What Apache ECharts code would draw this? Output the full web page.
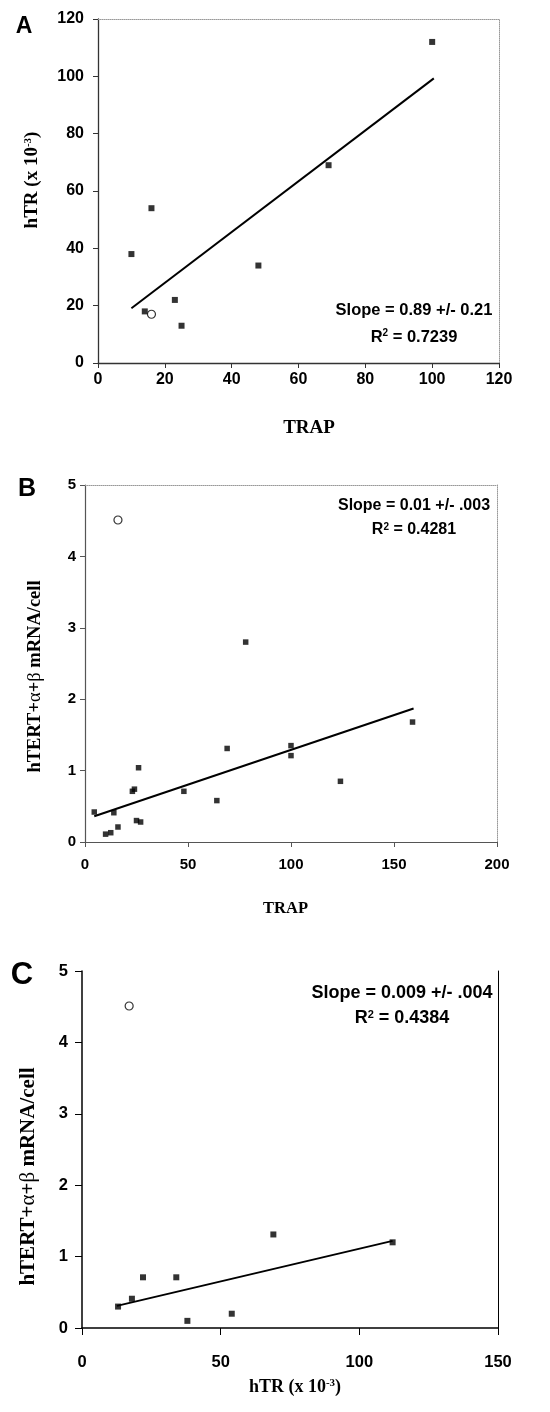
<!DOCTYPE html>
<html>
<head>
<meta charset="utf-8" />
<title>TRAP, hTR and hTERT mRNA</title>
<script src="https://cdn.jsdelivr.net/npm/echarts@6/dist/echarts.min.js"></script>
<style>
  html, body { margin: 0; padding: 0; background: #fff; }
  #chart { width: 550px; height: 1412px; }
</style>
</head>
<body>
<div id="chart"></div>
<script>
  // panel A: hTR (x 10-3) against TRAP
  var trapA = [10, 16, 14, 23, 25, 48, 69, 100];
  var htrA = [38, 54, 18, 22, 13, 34, 69, 112];
  var openA = [[16, 17]];
  var fitA = [[10, 19.1], [100.5, 99.3]];
  var xTicksA = [0, 20, 40, 60, 80, 100, 120];
  var yTicksA = [0, 20, 40, 60, 80, 100, 120];

  // panel B: hTERT+a+b mRNA/cell against TRAP
  var trapB = [4.5, 10, 12.5, 14, 16, 23, 24, 25, 26, 27, 48, 64, 69, 78, 100, 100, 124, 159];
  var mrnaB = [0.42, 0.11, 0.13, 0.41, 0.21, 0.71, 0.74, 0.30, 1.04, 0.28, 0.71, 0.58, 1.31, 2.80, 1.35, 1.21, 0.85, 1.68];
  var openB = [[16, 4.51]];
  var fitB = [[4.5, 0.36], [159.5, 1.87]];
  var xTicksB = [0, 50, 100, 150, 200];
  var yTicksB = [0, 1, 2, 3, 4, 5];

  // panel C: hTERT+a+b mRNA/cell against hTR
  var htrC = [13, 18, 22, 34, 38, 54, 69, 112];
  var mrnaC = [0.30, 0.41, 0.71, 0.71, 0.10, 0.20, 1.31, 1.20];
  var openC = [[17, 4.51]];
  var fitC = [[12.6, 0.31], [112, 1.22]];
  var xTicksC = [0, 50, 100, 150];
  var yTicksC = [0, 1, 2, 3, 4, 5];

  var sans = "'Liberation Sans', Arial, sans-serif";
  var serif = "'Liberation Serif', 'Times New Roman', serif";

  function pairs(xs, ys) {
    return xs.map(function (x, i) { return [x, ys[i]]; });
  }

  function range(ticks) {
    return { min: ticks[0], max: ticks[ticks.length - 1], interval: ticks[1] - ticks[0] };
  }

  // main (labelled) axis
  function mainAxis(grid, ticks, o) {
    var r = range(ticks);
    return {
      type: "value",
      gridIndex: grid,
      min: r.min,
      max: r.max,
      interval: r.interval,
      name: o.name,
      nameLocation: "middle",
      nameGap: o.nameGap,
      nameTextStyle: {
        fontFamily: serif,
        fontWeight: "bold",
        fontSize: o.nameSize,
        color: "#000",
        padding: o.namePad,
        rich: {
          sup: { fontSize: Math.round(o.nameSize * 0.6), fontWeight: "bold", fontFamily: serif, verticalAlign: "top", color: "#000" },
          g: { fontSize: o.nameSize, fontWeight: "normal", fontFamily: serif, color: "#000" },
        },
      },
      axisLine: { show: true, onZero: false, lineStyle: { color: o.lineColor, width: o.lineWidth } },
      axisTick: { show: true, inside: false, length: o.tickLen, lineStyle: { color: o.lineColor, width: 1 } },
      axisLabel: { fontFamily: sans, fontWeight: "bold", fontSize: o.labelSize, color: "#000", margin: o.margin },
      splitLine: { show: false },
    };
  }

  // bare border axis (top / right frame)
  function frameAxis(grid, ticks, pos, color, type) {
    var r = range(ticks);
    return {
      type: "value",
      gridIndex: grid,
      position: pos,
      min: r.min,
      max: r.max,
      interval: r.interval,
      axisLine: { show: true, onZero: false, lineStyle: { color: color, width: 1, type: type } },
      axisTick: { show: false },
      axisLabel: { show: false },
      splitLine: { show: false },
    };
  }

  function squares(x, y, data, size) {
    return {
      type: "scatter",
      xAxisIndex: x,
      yAxisIndex: y,
      data: data,
      symbol: "rect",
      symbolSize: size,
      itemStyle: { color: "#000" },
      z: 3,
    };
  }

  function circle(x, y, data) {
    return {
      type: "scatter",
      xAxisIndex: x,
      yAxisIndex: y,
      data: data,
      symbol: "circle",
      symbolSize: 8,
      itemStyle: { color: "#fff", borderColor: "#000", borderWidth: 1.2 },
      z: 3,
    };
  }

  function fit(x, y, data) {
    return {
      type: "line",
      xAxisIndex: x,
      yAxisIndex: y,
      data: data,
      showSymbol: false,
      lineStyle: { color: "#000", width: 2 },
      z: 2,
    };
  }

  function txt(str, x, y, size, family) {
    return {
      type: "text",
      x: x,
      y: y,
      style: {
        text: str,
        align: "center",
        verticalAlign: "middle",
        fontFamily: family || sans,
        fontWeight: "bold",
        fontSize: size,
        fill: "#000",
        rich: { sup: { fontSize: Math.round(size * 0.6), fontWeight: "bold", fontFamily: family || sans, verticalAlign: "top", fill: "#000" } },
      },
    };
  }

  var chart = echarts.init(document.getElementById("chart"));

  var option = {
    animation: false,
    backgroundColor: "#fff",
    grid: [
      { left: 98, top: 19, width: 401, height: 344 },
      { left: 85, top: 485, width: 412, height: 357 },
      { left: 82, top: 971, width: 416, height: 357 },
    ],
    xAxis: [
      mainAxis(0, xTicksA, { name: "TRAP", nameGap: 56, nameSize: 19, namePad: [0, 0, 0, 21], lineColor: "#333", lineWidth: 1.3, tickLen: 5, labelSize: 16, margin: 9 }),
      frameAxis(0, xTicksA, "top", "#999", "dotted"),
      mainAxis(1, xTicksB, { name: "TRAP", nameGap: 58, nameSize: 16.5, namePad: [0, 11, 0, 0], lineColor: "#555", lineWidth: 1.2, tickLen: 5, labelSize: 15, margin: 15 }),
      frameAxis(1, xTicksB, "top", "#999", "dotted"),
      mainAxis(2, xTicksC, { name: "hTR (x 10{sup|-3})", nameGap: 50, nameSize: 18, namePad: [0, 0, 0, 10], lineColor: "#000", lineWidth: 1.5, tickLen: 7, labelSize: 16.5, margin: 26 }),
    ],
    yAxis: [
      mainAxis(0, yTicksA, { name: "hTR (x 10{sup|-3})", nameGap: 56, nameSize: 19, namePad: [0, 0, 0, 22], lineColor: "#333", lineWidth: 1.3, tickLen: 5, labelSize: 16, margin: 14 }),
      frameAxis(0, yTicksA, "right", "#999", "dotted"),
      mainAxis(1, yTicksB, { name: "hTERT+{g|α}+{g|β} mRNA/cell", nameGap: 40, nameSize: 18.5, namePad: [0, 26, 0, 0], lineColor: "#555", lineWidth: 1.2, tickLen: 5, labelSize: 15, margin: 9 }),
      frameAxis(1, yTicksB, "right", "#999", "dotted"),
      mainAxis(2, yTicksC, { name: "hTERT+{g|α}+{g|β} mRNA/cell", nameGap: 43, nameSize: 21, namePad: [0, 54, 0, 0], lineColor: "#000", lineWidth: 1.5, tickLen: 7, labelSize: 16.5, margin: 14 }),
      frameAxis(2, yTicksC, "right", "#000", "solid"),
    ],
    series: [
      fit(0, 0, fitA),
      squares(0, 0, pairs(trapA, htrA), 6),
      circle(0, 0, openA),
      fit(2, 2, fitB),
      squares(2, 2, pairs(trapB, mrnaB), 5.5),
      circle(2, 2, openB),
      fit(4, 4, fitC),
      squares(4, 4, pairs(htrC, mrnaC), 6),
      circle(4, 4, openC),
    ],
    graphic: [
      txt("A", 24, 27, 23),
      txt("B", 27, 489, 25),
      txt("C", 22, 975, 31),
      txt("Slope = 0.89 +/- 0.21", 414, 310, 16.5),
      txt("R{sup|2} = 0.7239", 414, 337, 16.5),
      txt("Slope = 0.01 +/- .003", 414, 506, 16),
      txt("R{sup|2} = 0.4281", 414, 530, 16),
      txt("Slope = 0.009 +/- .004", 402, 993, 18),
      txt("R{sup|2} = 0.4384", 402, 1018, 18),
    ],
  };

  chart.setOption(option);
</script>
</body>
</html>
